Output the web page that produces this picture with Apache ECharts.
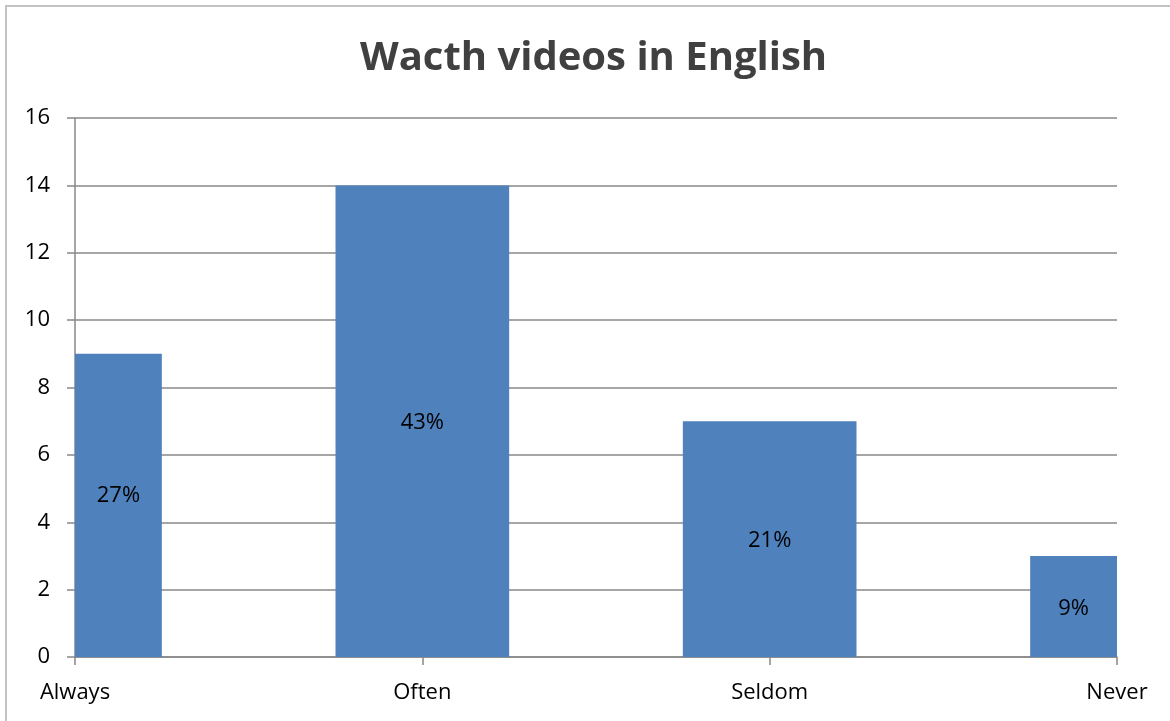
<!DOCTYPE html>
<html>
<head>
<meta charset="utf-8">
<title>Wacth videos in English</title>
<script src="https://cdn.jsdelivr.net/npm/echarts@6/dist/echarts.min.js"></script>
<style>
  html, body { margin: 0; padding: 0; background: #ffffff; }
  #chart { width: 1170px; height: 721px; }
</style>
</head>
<body>
<div id="chart"></div>
<script>
// Survey answers: how often respondents watch videos in English
const categories = ['Always', 'Often', 'Seldom', 'Never'];
const counts = [9, 14, 7, 3];
const shareLabels = ['27%', '43%', '21%', '9%'];
// Small vertical nudges for the share labels (px)
const labelNudgeY = [-10, 2, 2, 2];
const yMin = 0, yMax = 16, yStep = 2;

const axisGray = '#888888';
const barBlue = '#4F81BD';
const fontFamily = '"Open Sans", "Liberation Sans", sans-serif';

const chart = echarts.init(document.getElementById('chart'), null, { renderer: 'canvas' });

// Bars are centred on the category ticks and cut off at the plot edges;
// each share label sits in the middle of the visible part of its bar.
function renderBar(params, api) {
  const idx = api.value(0);
  const val = api.value(1);
  const top = api.coord([idx, val]);
  const base = api.coord([idx, 0]);
  const bandW = api.size([1, 0])[0];
  const w = bandW * 0.5;
  const rect = echarts.graphic.clipRectByRect(
    { x: top[0] - w / 2, y: top[1], width: w, height: base[1] - top[1] },
    {
      x: params.coordSys.x, y: params.coordSys.y,
      width: params.coordSys.width, height: params.coordSys.height
    }
  );
  if (!rect) return;
  return {
    type: 'group',
    children: [
      {
        type: 'rect',
        shape: rect,
        style: { fill: barBlue }
      },
      {
        type: 'text',
        x: rect.x + rect.width / 2,
        y: rect.y + rect.height / 2 + labelNudgeY[idx],
        style: {
          text: shareLabels[idx],
          fill: '#000000',
          font: '22px ' + fontFamily,
          align: 'center',
          verticalAlign: 'middle'
        }
      }
    ]
  };
}

chart.setOption({
  animation: false,
  backgroundColor: '#ffffff',
  graphic: [{
    type: 'rect',
    shape: { x: 6, y: 6, width: 1300, height: 900 },
    style: { fill: 'none', stroke: '#c3c3c3', lineWidth: 2 },
    silent: true,
    z: -10
  }],
  title: {
    text: 'Wacth videos in English',
    left: 355,
    top: 34,
    textStyle: {
      fontFamily: fontFamily,
      fontWeight: 'bold',
      fontSize: 40,
      color: '#404040'
    }
  },
  grid: { left: 75, right: 53, top: 118, bottom: 64, containLabel: false },
  xAxis: {
    type: 'category',
    data: categories,
    boundaryGap: false,
    axisLine: { show: true, lineStyle: { color: axisGray, width: 1.5 } },
    axisTick: { show: true, length: 8, lineStyle: { color: axisGray, width: 1.5 } },
    axisLabel: {
      margin: 25,
      fontFamily: fontFamily,
      fontSize: 22,
      color: '#000000',
      showMinLabel: true,
      showMaxLabel: true
    },
    splitLine: { show: false }
  },
  yAxis: {
    type: 'value',
    min: yMin,
    max: yMax,
    interval: yStep,
    axisLine: { show: true, lineStyle: { color: axisGray, width: 1.5 } },
    axisTick: { show: true, length: 8, lineStyle: { color: axisGray, width: 1.5 } },
    axisLabel: {
      margin: 25,
      fontFamily: fontFamily,
      fontSize: 22,
      color: '#000000'
    },
    splitLine: { show: true, lineStyle: { color: axisGray, width: 1.5 } }
  },
  series: [{
    type: 'custom',
    renderItem: renderBar,
    encode: { x: 0, y: 1 },
    data: counts.map((v, i) => [i, v]),
    z: 1
  }]
});
</script>
</body>
</html>
